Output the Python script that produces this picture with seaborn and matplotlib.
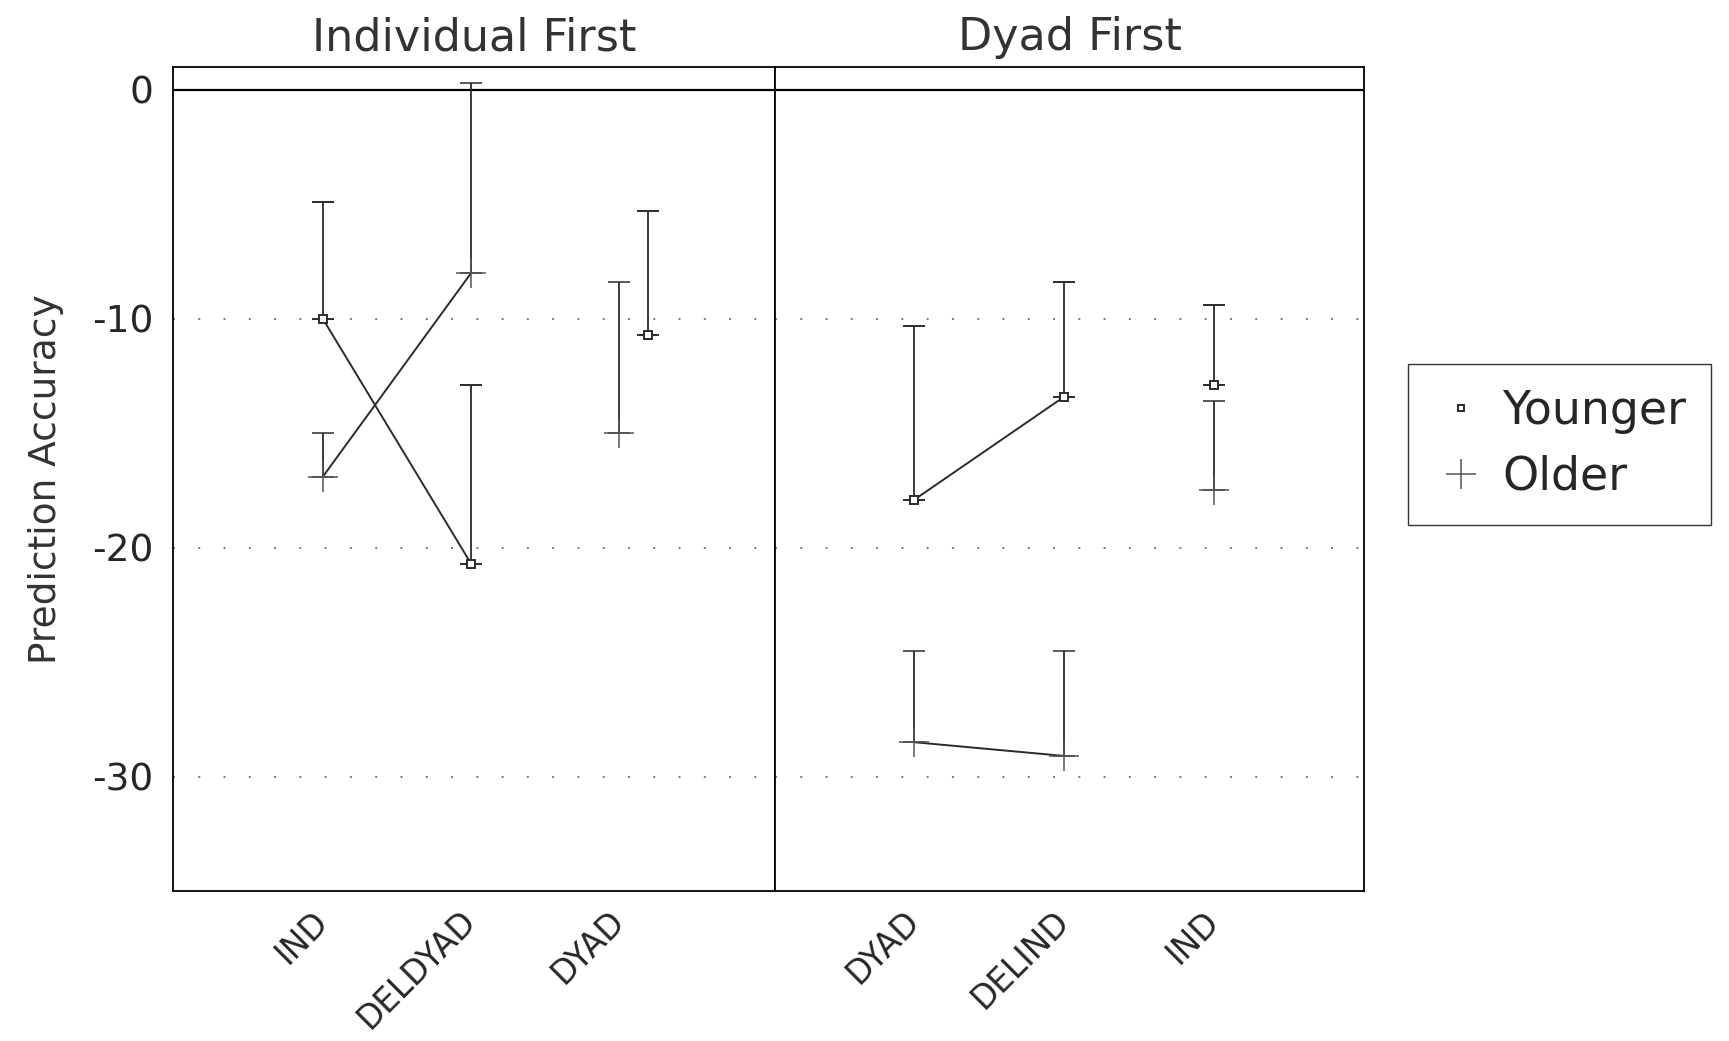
import numpy as np
import pandas as pd
import seaborn as sns
import matplotlib.pyplot as plt
from matplotlib.lines import Line2D

# === data ===
panels = ["Individual First", "Dyad First"]
conditions = {
    "Individual First": ["IND", "DELDYAD", "DYAD"],
    "Dyad First": ["DYAD", "DELIND", "IND"],
}
groups = ["Younger", "Older"]

younger_if = [-10.0, -20.7, -10.7]
younger_if_upper = [-4.9, -12.9, -5.3]
older_if = [-16.9, -8.0, -15.0]
older_if_upper = [-15.0, 0.3, -8.4]

younger_df = [-17.9, -13.4, -12.9]
younger_df_upper = [-10.3, -8.4, -9.4]
older_df = [-28.5, -29.1, -17.5]
older_df_upper = [-24.5, -24.5, -13.6]

# first two conditions of a panel are joined, the third stands alone
segment = [0, 0, 1]

values = {
    ("Individual First", "Younger"): (younger_if, younger_if_upper),
    ("Individual First", "Older"): (older_if, older_if_upper),
    ("Dyad First", "Younger"): (younger_df, younger_df_upper),
    ("Dyad First", "Older"): (older_df, older_df_upper),
}

# small horizontal dodge (style only)
dodge = {("Individual First", "DYAD", "Younger"): 0.19}

rows = []
for panel in panels:
    for g in groups:
        means, uppers = values[(panel, g)]
        for i, cond in enumerate(conditions[panel]):
            rows.append({
                "panel": panel, "condition": cond, "group": g,
                "x": i + dodge.get((panel, cond, g), 0.0),
                "mean": means[i], "upper": uppers[i],
                "unit": f"{g}-{segment[i]}",
            })
df = pd.DataFrame(rows)

# === plot ===
sns.set_style("white")
plt.rcParams["font.family"] = ["DejaVu Sans"]
plt.rcParams["axes.unicode_minus"] = False

fig, axes = plt.subplots(1, 2, figsize=(17.29, 10.41), dpi=100, sharey=True,
                         gridspec_kw={"width_ratios": [601, 588], "wspace": 0})
fig.subplots_adjust(left=0.1001, right=0.7889, top=0.9356, bottom=0.1441)

ink = "#2b2b2b"
style = {
    "Younger": dict(marker="s", ms=6, mfc="white", mec=ink, mew=1.4),
    "Older": dict(marker="+", ms=22, mec="#555555", mew=1.1),
}
xlims = {"Individual First": (-1.01, 3.05), "Dyad First": (-0.93, 3.0)}

for ax, panel in zip(axes, panels):
    d = df[df.panel == panel]
    ax.grid(axis="y", color="#7a7a7a", linestyle=(0, (1, 12)), linewidth=1.4)
    ax.axhline(0, color="black", lw=1.6, zorder=2)

    sns.lineplot(data=d, x="x", y="mean", units="unit", estimator=None,
                 sort=False, color=ink, lw=1.4, legend=False, ax=ax)

    for g in groups:
        gd = d[d.group == g]
        err = [np.zeros(len(gd)), (gd["upper"] - gd["mean"]).values]
        ax.errorbar(gd["x"], gd["mean"], yerr=err, ls="none", color=ink,
                    elinewidth=1.3, capsize=8, capthick=1.4, zorder=3,
                    **style[g])

    ax.set_xticks(range(len(conditions[panel])))
    ax.set_xticklabels(conditions[panel], rotation=45, ha="right",
                       va="center", rotation_mode="anchor", fontsize=23.5)
    ax.set_xlim(*xlims[panel])
    ax.set_xlabel("")
    ax.set_title(panel, fontsize=32, pad=12, color="#333333")
    ax.tick_params(axis="both", length=0)
    ax.tick_params(axis="x", pad=18)
    ax.tick_params(axis="y", pad=14, labelsize=27)
    for s in ax.spines.values():
        s.set_visible(True)
        s.set_color("black")
        s.set_linewidth(1.3)

axes[0].set_ylim(-35, 1)
axes[0].set_yticks([0, -10, -20, -30])
axes[0].set_ylabel("Prediction Accuracy", fontsize=27, labelpad=20, color="#333333")
axes[1].set_ylabel("")

handles = [Line2D([], [], ls="none", color=ink, **style[g]) for g in groups]
handles[0].set_markersize(5)
fig.legend(handles, groups, loc="upper left", bbox_to_anchor=(0.8144, 0.6503),
           frameon=True, fancybox=False, edgecolor="black", fontsize=33,
           borderpad=0.55, labelspacing=0.45, handlelength=1.2,
           handletextpad=0.3, borderaxespad=0)

plt.savefig("out.png", dpi=100)
